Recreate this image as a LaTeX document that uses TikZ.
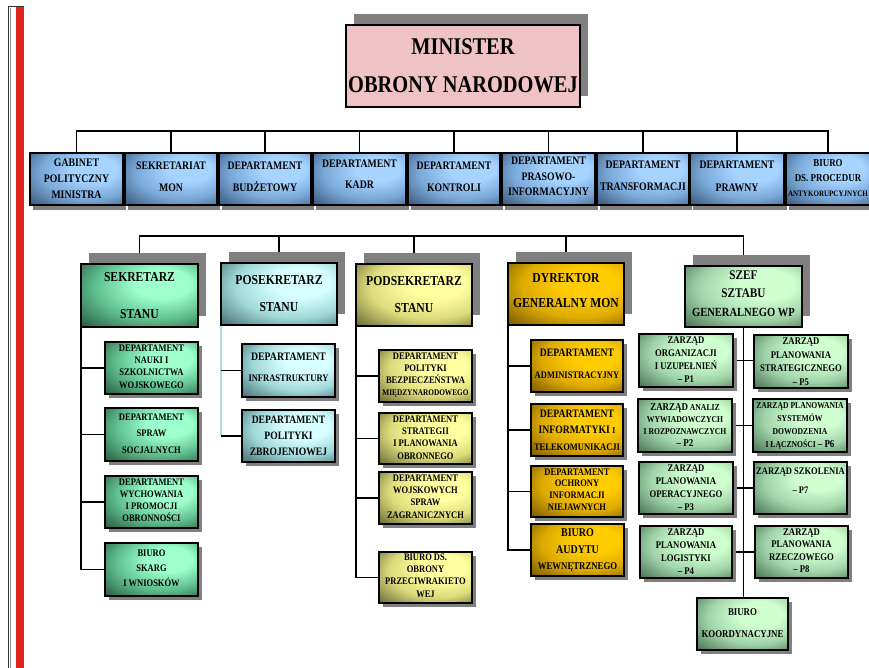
\documentclass[tikz,border=0pt]{standalone}
\usepackage{fontspec}
\newfontfamily\myfont{Liberation Serif}[FakeStretch=0.85]
\usetikzlibrary{shadows}
\definecolor{shgray}{HTML}{808080}
\definecolor{redbar}{HTML}{E0261E}
\definecolor{pinkc}{HTML}{EFC2C5}
\definecolor{cyanline}{HTML}{A8E0E0}
\definecolor{bluL}{HTML}{A6D3FF}\definecolor{bluM}{HTML}{7AA8D8}\definecolor{bluD}{HTML}{34506F}
\definecolor{grnL}{HTML}{9CFFCC}\definecolor{grnM}{HTML}{5FBE8E}\definecolor{grnD}{HTML}{24503A}
\definecolor{cyaL}{HTML}{D8FFFF}\definecolor{cyaM}{HTML}{A0D8D8}\definecolor{cyaD}{HTML}{3E6464}
\definecolor{yelL}{HTML}{FFFFA0}\definecolor{yelM}{HTML}{DCDC7C}\definecolor{yelD}{HTML}{5E5E30}
\definecolor{golL}{HTML}{FFCC00}\definecolor{golM}{HTML}{DDAA00}\definecolor{golD}{HTML}{6E5200}
\definecolor{pgrL}{HTML}{D0FFD0}\definecolor{pgrM}{HTML}{A0D4A8}\definecolor{pgrD}{HTML}{42684C}
\pgfdeclareradialshading{shblue}{\pgfpoint{12bp}{12bp}}{color(0bp)=(bluL); color(12bp)=(bluL); color(26bp)=(bluM); color(42bp)=(bluD); color(60bp)=(bluD)}
\pgfdeclareradialshading{shgreen}{\pgfpoint{12bp}{12bp}}{color(0bp)=(grnL); color(12bp)=(grnL); color(26bp)=(grnM); color(42bp)=(grnD); color(60bp)=(grnD)}
\pgfdeclareradialshading{shcyan}{\pgfpoint{12bp}{12bp}}{color(0bp)=(cyaL); color(12bp)=(cyaL); color(26bp)=(cyaM); color(42bp)=(cyaD); color(60bp)=(cyaD)}
\pgfdeclareradialshading{shyellow}{\pgfpoint{12bp}{12bp}}{color(0bp)=(yelL); color(12bp)=(yelL); color(26bp)=(yelM); color(42bp)=(yelD); color(60bp)=(yelD)}
\pgfdeclareradialshading{shgold}{\pgfpoint{12bp}{12bp}}{color(0bp)=(golL); color(12bp)=(golL); color(26bp)=(golM); color(42bp)=(golD); color(60bp)=(golD)}
\pgfdeclareradialshading{shpgreen}{\pgfpoint{12bp}{12bp}}{color(0bp)=(pgrL); color(12bp)=(pgrL); color(26bp)=(pgrM); color(42bp)=(pgrD); color(60bp)=(pgrD)}
\pgfdeclarelayer{bg}
\pgfsetlayers{bg,main}
\newcommand\fsz[2]{\fontsize{#1}{#2}\selectfont}
\tikzset{
  fnt/.style 2 args={font=\myfont\bfseries\fsz{#1}{#2}},
  sh/.style 2 args={general shadow={fill=shgray, shadow xshift=#1, shadow yshift=#2}},
  box/.style={draw=black, line width=1.3pt, inner sep=0pt, outer sep=0pt, align=center, shade},
  dept/.style={box, shading=shblue, minimum height=52pt, sh={3pt}{-5pt}, fnt={11.5}{16}, text depth=4pt},
  head/.style={box, line width=1.5pt, sh={8pt}{11pt}, fnt={13.7}{27}},
  sub/.style={box, minimum width=93pt, minimum height=52pt, sh={4pt}{-4pt}, fnt={10}{12.3}},
  conn/.style={draw=black, line width=1.2pt},
}
\begin{document}
\begin{tikzpicture}[x=1pt,y=-1pt]
\useasboundingbox (0,0) rectangle (869,668);
\begin{pgfonlayer}{bg}
\fill[white] (0,0) rectangle (869,668);
\end{pgfonlayer}
% left bar
\fill[redbar] (16,7) rectangle (24,668);
\draw[black!80, line width=1.4pt] (8.7,668) -- (8.7,6.7) -- (23.5,6.7);
\draw[black!45, line width=0.7pt] (10,8) -- (10,668);

% minister
\node[draw=black, line width=1.8pt, fill=pinkc, inner sep=0pt, align=center,
  minimum width=234pt, minimum height=82pt, sh={8pt}{11pt}, fnt={24}{38}]
  (min) at (463,66) {MINISTER\\OBRONY NARODOWEJ};

% department row
\node[dept, minimum width=93pt, text depth=1pt] (d1) at (76.5,179) {GABINET\\POLITYCZNY\\MINISTRA};
\node[dept, minimum width=92pt] (d2) at (171,179) {SEKRETARIAT\\[6pt]MON};
\node[dept, minimum width=92pt] (d3) at (265,179) {DEPARTAMENT\\[6pt]BUDŻETOWY};
\node[dept, minimum width=93pt, text depth=9pt] (d4) at (359.5,179) {DEPARTAMENT\\[5pt]KADR};
\node[dept, minimum width=92pt] (d5) at (454,179) {DEPARTAMENT\\[6pt]KONTROLI};
\node[dept, minimum width=93pt, text depth=5pt, fnt={11.5}{15.5}] (d6) at (548.5,179) {DEPARTAMENT\\PRASOWO-\\INFORMACYJNY};
\node[dept, minimum width=92pt, text depth=6pt] (d7) at (643,179) {DEPARTAMENT\\[6pt]TRANSFORMACJI};
\node[dept, minimum width=94pt, text depth=5pt] (d8) at (737,179) {DEPARTAMENT\\[7pt]PRAWNY};
\node[dept, minimum width=84pt, text depth=2pt, fnt={10.5}{15}] (d9) at (828,179) {BIURO\\DS. PROCEDUR\\{\fsz{8.3}{15}ANTYKORUPCYJNYCH}};

% heads
\node[head, shading=shgreen, minimum width=117pt, minimum height=63pt, fnt={13.7}{37}, text depth=-8pt] (sek) at (139.5,295.5) {SEKRETARZ\\STANU};
\node[head, shading=shcyan, minimum width=116pt, minimum height=62pt] (pos) at (279,294) {POSEKRETARZ\\STANU};
\node[head, shading=shyellow, minimum width=116pt, minimum height=62pt] (pod) at (414,295) {PODSEKRETARZ\\STANU};
\node[head, shading=shgold, minimum width=116pt, minimum height=62pt, fnt={13.7}{25}, text depth=7pt] (dyr) at (566,294) {DYREKTOR\\GENERALNY MON};
\node[head, shading=shpgreen, minimum width=117pt, minimum height=61pt, fnt={13.2}{18.5}, text depth=6pt] (szef) at (743.5,296.5) {SZEF\\SZTABU\\{\fsz{12.4}{18.5}GENERALNEGO WP}};

% sekretarz subs
\node[sub, shading=shgreen, text depth=3pt] (s1) at (151.5,368) {DEPARTAMENT\\NAUKI I\\SZKOLNICTWA\\WOJSKOWEGO};
\node[sub, shading=shgreen, minimum height=53pt, fnt={10}{16.5}, text depth=2pt] (s2) at (151.5,434.5) {DEPARTAMENT\\SPRAW\\SOCJALNYCH};
\node[sub, shading=shgreen, fnt={10}{12}, text depth=4pt] (s3) at (151.5,502) {DEPARTAMENT\\WYCHOWANIA\\I PROMOCJI\\OBRONNOŚCI};
\node[sub, shading=shgreen, minimum height=53pt, fnt={10}{15}, text depth=3pt] (s4) at (151.5,569.5) {BIURO\\SKARG\\I WNIOSKÓW};

% posekretarz subs
\node[sub, shading=shcyan, minimum height=53pt, fnt={11.5}{21}, text depth=6pt] (p1) at (288.5,370.5) {DEPARTAMENT\\{\fsz{10}{21}INFRASTRUKTURY}};
\node[sub, shading=shcyan, fnt={11.3}{16}] (p2) at (288.5,436) {DEPARTAMENT\\POLITYKI\\ZBROJENIOWEJ};

% podsekretarz subs
\node[sub, shading=shyellow, fnt={10}{12}, text depth=4pt] (q1) at (425.5,376) {DEPARTAMENT\\POLITYKI\\BEZPIECZEŃSTWA\\{\fsz{8.6}{12}MIĘDZYNARODOWEGO}};
\node[sub, shading=shyellow, minimum height=51pt, text depth=2pt] (q2) at (425.5,438.5) {DEPARTAMENT\\STRATEGII\\I PLANOWANIA\\OBRONNEGO};
\node[sub, shading=shyellow, text depth=3pt] (q3) at (425.5,498) {DEPARTAMENT\\WOJSKOWYCH\\SPRAW\\ZAGRANICZNYCH};
\node[sub, shading=shyellow, minimum height=51pt, text depth=4pt] (q4) at (425.5,577.5) {BIURO DS.\\OBRONY\\PRZECIWRAKIETO\\WEJ};

% dyrektor subs
\node[sub, shading=shgold, minimum width=92pt, fnt={11.4}{22}, text depth=4pt] (r1) at (577,366) {DEPARTAMENT\\{\fsz{10}{22}ADMINISTRACYJNY}};
\node[sub, shading=shgold, minimum width=92pt, fnt={11.4}{16.5}] (r2) at (577,430) {DEPARTAMENT\\INFORMATYKI {\fsz{9}{16}I}\\{\fsz{10}{16}TELEKOMUNIKACJI}};
\node[sub, shading=shgold, minimum width=92pt, minimum height=51pt, fnt={10}{11.7}, text depth=4pt] (r3) at (577,491.5) {DEPARTAMENT\\OCHRONY\\INFORMACJI\\NIEJAWNYCH};
\node[sub, shading=shgold, fnt={11.8}{16.5}, text depth=1pt] (r4) at (577.5,550) {BIURO\\AUDYTU\\{\fsz{10.3}{16}WEWNĘTRZNEGO}};

% szef subs
\node[sub, shading=shpgreen, minimum width=94pt, minimum height=53pt, fnt={10.2}{13}, text depth=2pt] (z1) at (686,360.5) {ZARZĄD\\ORGANIZACJI\\I UZUPEŁNIEŃ\\– P1};
\node[sub, shading=shpgreen, minimum width=94pt, minimum height=53pt, fnt={10.2}{13.7}, text depth=-2pt] (z5) at (801,361.5) {ZARZĄD\\PLANOWANIA\\STRATEGICZNEGO\\– P5};
\node[sub, shading=shpgreen, minimum width=94pt, minimum height=53pt, fnt={9}{12}] (z2) at (685,425.5) {{\fsz{10.5}{12}ZARZĄD} ANALIZ\\WYWIADOWCZYCH\\I ROZPOZNAWCZYCH\\{\fsz{10.5}{12}– P2}};
\node[sub, shading=shpgreen, minimum width=94pt, minimum height=53pt, fnt={9}{13}, text depth=-2pt] (z6) at (800,425.5) {ZARZĄD PLANOWANIA\\SYSTEMÓW\\DOWODZENIA\\I ŁĄCZNOŚCI {\fsz{10.5}{13}– P6}};
\node[sub, shading=shpgreen, minimum width=94pt, fnt={10.2}{13}] (z3) at (686,488) {ZARZĄD\\PLANOWANIA\\OPERACYJNEGO\\– P3};
\node[sub, shading=shpgreen, fnt={10}{19}, text depth=15pt] (z7) at (800.5,488) {ZARZĄD SZKOLENIA\\– P7};
\node[sub, shading=shpgreen, minimum width=92pt, fnt={10.2}{13}] (z4) at (686,552) {ZARZĄD\\PLANOWANIA\\LOGISTYKI\\– P4};
\node[sub, shading=shpgreen, fnt={10.2}{12.3}, text depth=3pt] (z8) at (801.5,552) {ZARZĄD\\PLANOWANIA\\RZECZOWEGO\\– P8};
\node[sub, shading=shpgreen, minimum width=91pt, fnt={10.4}{22}, text depth=2pt] (zb) at (742.5,624) {BIURO\\KOORDYNACYJNE};

% bus coordinates
\coordinate (busA) at (0,131);
\coordinate (busB) at (0,236);

\begin{pgfonlayer}{bg}
% top bus
\draw[conn] (d1.north) -- (d1.north |- busA) -| (d9.north);
\foreach \n in {d2,d3,d4,d5,d6,d7,d8} \draw[conn] (\n.north) -- (\n.north |- busA);
% second bus
\draw[conn] (sek.north) -- (sek.north |- busB) -| (szef.north);
\foreach \n in {pos,pod,dyr} \draw[conn] (\n.north) -- (\n.north |- busB);
% sekretarz tree
\draw[conn] (sek.south west) |- (s4.west);
\foreach \n in {s1,s2,s3} \draw[conn] (sek.south west |- \n.west) -- (\n.west);
% posekretarz tree
\draw[draw=cyanline, line width=1.1pt] (pos.south west) -- (pos.south west |- p2.west);
\foreach \n in {p1,p2} \draw[conn] (pos.south west |- \n.west) -- (\n.west);
% podsekretarz tree
\draw[conn] (pod.south west) |- (q4.west);
\foreach \n in {q1,q2,q3} \draw[conn] (pod.south west |- \n.west) -- (\n.west);
% dyrektor tree
\draw[conn] (dyr.south west) |- (r4.west);
\foreach \n in {r1,r2,r3} \draw[conn] (dyr.south west |- \n.west) -- (\n.west);
% szef tree
\draw[conn] (szef.south) -- (szef.south |- zb.north);
\draw[conn] (z1.east) -- (z1.east -| z5.west);
\draw[conn] (z2.east) -- (z2.east -| z6.west);
\draw[conn] (z3.east) -- (z3.east -| z7.west);
\draw[conn] (z4.east) -- (z4.east -| z8.west);
\end{pgfonlayer}
\end{tikzpicture}
\end{document}
